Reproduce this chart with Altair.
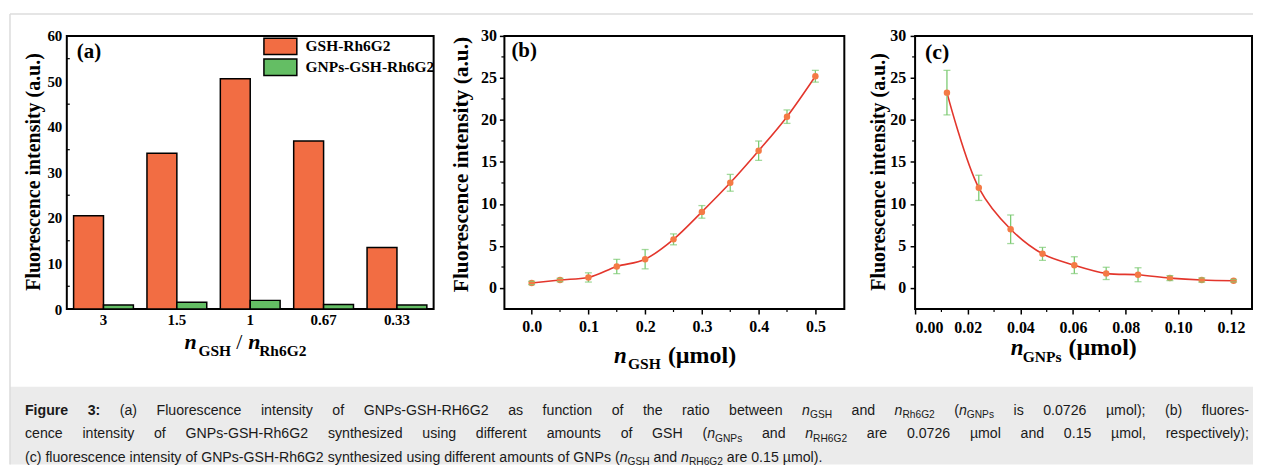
import re
import altair as alt
import pandas as pd

# ---------------- data ----------------
# Panel (a)
ratio_labels = ["3", "1.5", "1", "0.67", "0.33"]
series_names = ["GSH-Rh6G2", "GNPs-GSH-Rh6G2"]
gsh_rh6g2 = [20.5, 34.2, 50.6, 36.9, 13.5]
gnps_gsh_rh6g2 = [0.9, 1.5, 1.9, 1.0, 0.9]

# Panel (b)
n_gsh = [0.0, 0.05, 0.10, 0.15, 0.20, 0.25, 0.30, 0.35, 0.40, 0.45, 0.50]
intensity_b = [0.6, 0.95, 1.26, 2.56, 3.43, 5.79, 9.06, 12.52, 16.34, 20.39, 25.2]
error_b = [0.2, 0.2, 0.55, 0.85, 1.15, 0.65, 0.75, 1.0, 1.15, 0.8, 0.7]

# Panel (c)
n_gnps = [0.0121, 0.0242, 0.0363, 0.0484, 0.0605, 0.0726, 0.0847, 0.0968, 0.1089, 0.1210]
intensity_c = [23.25, 11.92, 6.99, 4.07, 2.72, 1.74, 1.58, 1.18, 0.95, 0.87]
error_c = [2.65, 1.5, 1.7, 0.77, 1.0, 0.73, 0.83, 0.3, 0.25, 0.15]

y_title = "Fluorescence intensity (a.u.)"
ticks_a = [0, 10, 20, 30, 40, 50, 60]
minor_a = [5, 15, 25, 35, 45, 55]
ticks_bc = [0, 5, 10, 15, 20, 25, 30]
minor_bc_y = [2.5, 7.5, 12.5, 17.5, 22.5, 27.5]
xticks_b = [0.0, 0.1, 0.2, 0.3, 0.4, 0.5]
minor_b_x = [0.05, 0.15, 0.25, 0.35, 0.45]
xticks_c = [0.0, 0.02, 0.04, 0.06, 0.08, 0.10, 0.12]
minor_c_x = [0.01, 0.03, 0.05, 0.07, 0.09, 0.11]

caption_line1 = [("Figure 3:", "b"),
                 (" (a) Fluorescence intensity of GNPs-GSH-RH6G2 as function of the ratio between ", "r"),
                 ("n", "i"), ("GSH", "s"), (" and ", "r"), ("n", "i"), ("Rh6G2", "s"), (" (", "r"),
                 ("n", "i"), ("GNPs", "s"), (" is 0.0726 \u00b5mol); (b) fluores-", "r")]
caption_line2 = [("cence intensity of GNPs-GSH-Rh6G2 synthesized using different amounts of GSH (", "r"),
                 ("n", "i"), ("GNPs", "s"), (" and ", "r"), ("n", "i"), ("RH6G2", "s"),
                 (" are 0.0726 \u00b5mol and 0.15 \u00b5mol, respectively);", "r")]
caption_line3 = [("(c) fluorescence intensity of GNPs-GSH-Rh6G2 synthesized using different amounts of GNPs (", "r"),
                 ("n", "i"), ("GSH", "s"), (" and ", "r"), ("n", "i"), ("RH6G2", "s"),
                 (" are 0.15 \u00b5mol).", "r")]

# ---------------- style ----------------
SERIF = "Liberation Serif"
SANS = "Liberation Sans"
ORANGE = "#F26D43"
GREEN = "#64BE64"
PT_ORANGE = "#F47A45"
ERR_GREEN = "#7DCB74"
RED = "#E3362C"

W_A, W_B, W_C, H = 368, 341, 338, 274
SPACING = 71
CAP_TOP = H + 78          # caption band top, relative to panel (a) plot top
CAP_W, CAP_H = 1190, 78
LEFT = -57
TOPLINE = -22
MAJOR, MINOR = 5, 3


def txt(text, x, y, size, weight="bold", style="normal", font=SERIF):
    return alt.Chart(pd.DataFrame({"t": [text]})).mark_text(
        font=font, fontSize=size, fontWeight=weight, fontStyle=style,
        align="left", baseline="alphabetic", color="black"
    ).encode(text="t:N", x=alt.value(x), y=alt.value(y))


# ---------------- caption (drawn inside panel (a)'s layer) ----------------
AR = {' ': 278, '!': 278, '(': 333, ')': 333, ',': 278, '-': 333, '.': 278, '/': 278, ':': 278, ';': 278,
      'A': 667, 'B': 667, 'C': 722, 'D': 722, 'E': 667, 'F': 611, 'G': 778, 'H': 722, 'I': 278, 'J': 500,
      'K': 667, 'L': 556, 'M': 833, 'N': 722, 'O': 778, 'P': 667, 'Q': 778, 'R': 722, 'S': 667, 'T': 611,
      'U': 722, 'V': 667, 'W': 944, 'X': 667, 'Y': 667, 'Z': 611,
      'a': 556, 'b': 556, 'c': 500, 'd': 556, 'e': 556, 'f': 278, 'g': 556, 'h': 556, 'i': 222, 'j': 222,
      'k': 500, 'l': 222, 'm': 833, 'n': 556, 'o': 556, 'p': 556, 'q': 556, 'r': 333, 's': 500, 't': 278,
      'u': 556, 'v': 500, 'w': 722, 'x': 500, 'y': 500, 'z': 500, '\u00b5': 576}
for d in "0123456789":
    AR[d] = 556
ARB = dict(AR)
ARB.update({'F': 611, 'i': 278, 'g': 611, 'u': 611, 'r': 389, 'e': 556, ' ': 278, '3': 556, ':': 333})

FS = 14.2
SUB = 0.72
X0 = -42
RIGHT = 1186


def layout(runs, base_y, justify):
    toks = []
    for text, st in runs:
        for p in re.split(r"( )", text):
            if p:
                toks.append((p, st, p == " "))

    def size(st):
        return FS * SUB if st == "s" else FS

    def width(p, st):
        table = ARB if st == "b" else AR
        return sum(table.get(c, 556) for c in p) / 1000.0 * size(st)

    natural = sum(width(p, st) for p, st, _ in toks)
    nsp = sum(1 for t in toks if t[2])
    extra = (RIGHT - X0 - natural) / nsp if justify and nsp else 0.0
    x = X0
    rows = []
    for p, st, sp in toks:
        w = width(p, st)
        if sp:
            x += w + extra
            continue
        rows.append({"text": p, "style": st, "x": x,
                     "y": CAP_TOP + base_y + (3.5 if st == "s" else 0.0)})
        x += w
    return rows


cap_rows = (layout(caption_line1, 28, True) + layout(caption_line2, 51.5, True)
            + layout(caption_line3, 75, False))
df_cap = pd.DataFrame(cap_rows)
one = pd.DataFrame({"k": [0]})

bg = alt.Chart(one).mark_rect(color="#EBEBEB").encode(
    x=alt.value(LEFT), x2=alt.value(CAP_W), y=alt.value(CAP_TOP), y2=alt.value(CAP_TOP + CAP_H))
frame_top = alt.Chart(one).mark_rule(color="#DCDCDC", strokeWidth=1.5).encode(
    x=alt.value(LEFT), x2=alt.value(CAP_W), y=alt.value(TOPLINE))
frame_left = alt.Chart(one).mark_rule(color="#DCDCDC", strokeWidth=1.5).encode(
    x=alt.value(LEFT), y=alt.value(TOPLINE), y2=alt.value(CAP_TOP + CAP_H))


def cap_layer(style, **kw):
    return alt.Chart(df_cap).transform_filter(alt.datum.style == style).mark_text(
        font=SANS, align="left", baseline="alphabetic", color="#1A1A1A", **kw
    ).encode(x=alt.X("x:Q", scale=None, axis=None), y=alt.Y("y:Q", scale=None, axis=None), text="text:N")


caption_layers = [
    bg, frame_top, frame_left,
    cap_layer("b", fontSize=FS, fontWeight="bold"),
    cap_layer("r", fontSize=FS),
    cap_layer("i", fontSize=FS, fontStyle="italic"),
    cap_layer("s", fontSize=FS * SUB),
]

# ---------------- panel (a) ----------------
df_a = pd.DataFrame({
    "ratio": ratio_labels * 2,
    "series": [series_names[0]] * len(ratio_labels) + [series_names[1]] * len(ratio_labels),
    "value": gsh_rh6g2 + gnps_gsh_rh6g2,
})

bars = alt.Chart(df_a).mark_bar(stroke="black", strokeWidth=1.5, opacity=1).encode(
    x=alt.X("ratio:N", sort=ratio_labels, title=None,
            scale=alt.Scale(paddingInner=0.185, paddingOuter=0.0925),
            axis=alt.Axis(labelAngle=0, ticks=False, tickSize=0, labelPadding=3.5, labelFontSize=15)),
    xOffset=alt.XOffset("series:N", sort=series_names, scale=alt.Scale(paddingInner=0, paddingOuter=0)),
    y=alt.Y("value:Q", title=y_title, scale=alt.Scale(domain=[0, 60], nice=False),
            axis=alt.Axis(values=ticks_a, ticks=False, tickSize=0, labelPadding=5, labelFontSize=15,
                          titleFontSize=20, titleX=-33, titleY=136, titleAngle=270,
                          titleAlign="center", titleBaseline="middle")),
    color=alt.Color("series:N", sort=series_names,
                    scale=alt.Scale(domain=series_names, range=[ORANGE, GREEN]),
                    legend=alt.Legend(title=None, orient="none", legendX=205.25, legendY=1.5,
                                      symbolType="M-2,-1H2V1H-2Z", symbolSize=272.25,
                                      symbolStrokeColor="black", symbolStrokeWidth=1.5, symbolOpacity=1,
                                      labelFont=SERIF, labelFontWeight="bold", labelFontSize=15.5,
                                      labelColor="black", labelOffset=16.25, rowPadding=-3.5, padding=0)),
)

minor_ticks_a = alt.Chart(pd.DataFrame({"v": minor_a})).mark_rule(color="black", strokeWidth=1.2).encode(
    y=alt.Y("v:Q", scale=alt.Scale(domain=[0, 60], nice=False), axis=None),
    x=alt.value(0), x2=alt.value(3))

panel_a = alt.layer(
    bars,
    minor_ticks_a,
    txt("(a)", 10, 22, 21),
    txt("n", 118, 314, 22, style="italic"),
    txt("GSH", 132, 321, 15.5),
    txt("/", 170, 314, 22, weight="normal"),
    txt("n", 182, 314, 22, style="italic"),
    txt("Rh6G2", 193, 321, 15.5),
    *caption_layers,
).resolve_scale(x="independent", y="independent").properties(width=W_A, height=H)


# ---------------- panels (b) and (c) ----------------
def scatter_panel(xs, ys, es, xdom, xvals, xminor, xfmt, xlabpad, ylabpad,
                  ytitle_size, ytitle_x, ytitle_y, interp):
    df = pd.DataFrame({"x": xs, "y": ys, "e": es})
    df["lo"] = df["y"] - df["e"]
    df["hi"] = df["y"] + df["e"]
    xenc = alt.X("x:Q", title=None, scale=alt.Scale(domain=xdom, nice=False, zero=False),
                 axis=alt.Axis(values=xvals, format=xfmt, tickSize=MAJOR, labelPadding=xlabpad,
                               labelFontSize=16))
    yaxis = alt.Axis(values=ticks_bc, tickSize=MAJOR, labelPadding=ylabpad, labelFontSize=16,
                     titleFontSize=ytitle_size, titleX=ytitle_x, titleY=ytitle_y, titleAngle=270,
                     titleAlign="center", titleBaseline="middle")
    yscale = alt.Scale(domain=[-2.5, 30], nice=False)
    line = alt.Chart(df).mark_line(color=RED, strokeWidth=1.6, interpolate=interp).encode(
        x=xenc, y=alt.Y("y:Q", title=y_title, scale=yscale, axis=yaxis))
    rule = alt.Chart(df).mark_rule(color=ERR_GREEN, strokeWidth=1.3).encode(
        x="x:Q", y=alt.Y("lo:Q", title=y_title), y2="hi:Q")
    pts = alt.Chart(df).mark_circle(size=42, color=PT_ORANGE, opacity=1).encode(
        x="x:Q", y=alt.Y("y:Q", title=y_title))
    cap_lo = alt.Chart(df).mark_tick(color=ERR_GREEN, orient="horizontal", size=7, thickness=1.3).encode(
        x="x:Q", y=alt.Y("lo:Q", title=y_title))
    cap_hi = alt.Chart(df).mark_tick(color=ERR_GREEN, orient="horizontal", size=7, thickness=1.3).encode(
        x="x:Q", y=alt.Y("hi:Q", title=y_title))
    ymin = alt.Chart(pd.DataFrame({"v": minor_bc_y})).mark_rule(color="black", strokeWidth=1.2).encode(
        y=alt.Y("v:Q", title=y_title), x=alt.value(-MINOR), x2=alt.value(0))
    xmin = alt.Chart(pd.DataFrame({"v": xminor})).mark_rule(color="black", strokeWidth=1.2).encode(
        x=alt.X("v:Q", title=None), y=alt.value(H), y2=alt.value(H + MINOR))
    return [line, rule, pts, cap_lo, cap_hi, ymin, xmin]


panel_b = alt.layer(
    *scatter_panel(n_gsh, intensity_b, error_b, [-0.048, 0.551], xticks_b, minor_b_x, ".1f",
                   4.5, 3, 21.5, -43, 128.5, "monotone"),
    txt("(b)", 7, 21, 21),
    txt("n", 110, 328, 23, style="italic"),
    txt("GSH", 124, 334, 15.6),
    txt("(\u00b5mol)", 164, 328, 24),
).properties(width=W_B, height=H)

panel_c = alt.layer(
    *scatter_panel(n_gnps, intensity_c, error_c, [0, 0.128], xticks_c, minor_c_x, ".2f",
                   6, 4.4, 20, -37, 136, "catmull-rom"),
    txt("(c)", 10, 23, 22),
    txt("n", 96, 320, 23, style="italic"),
    txt("GNPs", 108, 327, 15.6),
    txt("(\u00b5mol)", 154, 320, 24),
).properties(width=W_C, height=H)

chart = alt.hconcat(panel_a, panel_b, panel_c, spacing=SPACING, bounds="flush").properties(
    padding={"left": 0, "top": 3.25, "right": 0, "bottom": 0}
).configure(background="white").configure_view(
    stroke="black", strokeWidth=2
).configure_axis(
    labelFont=SERIF, labelFontWeight="bold", labelColor="black",
    titleFont=SERIF, titleFontWeight="bold", titleColor="black",
    tickColor="black", tickWidth=1.5, grid=False, domain=False
)

chart.save("out.html", embed_options={"renderer": "svg", "actions": False})
